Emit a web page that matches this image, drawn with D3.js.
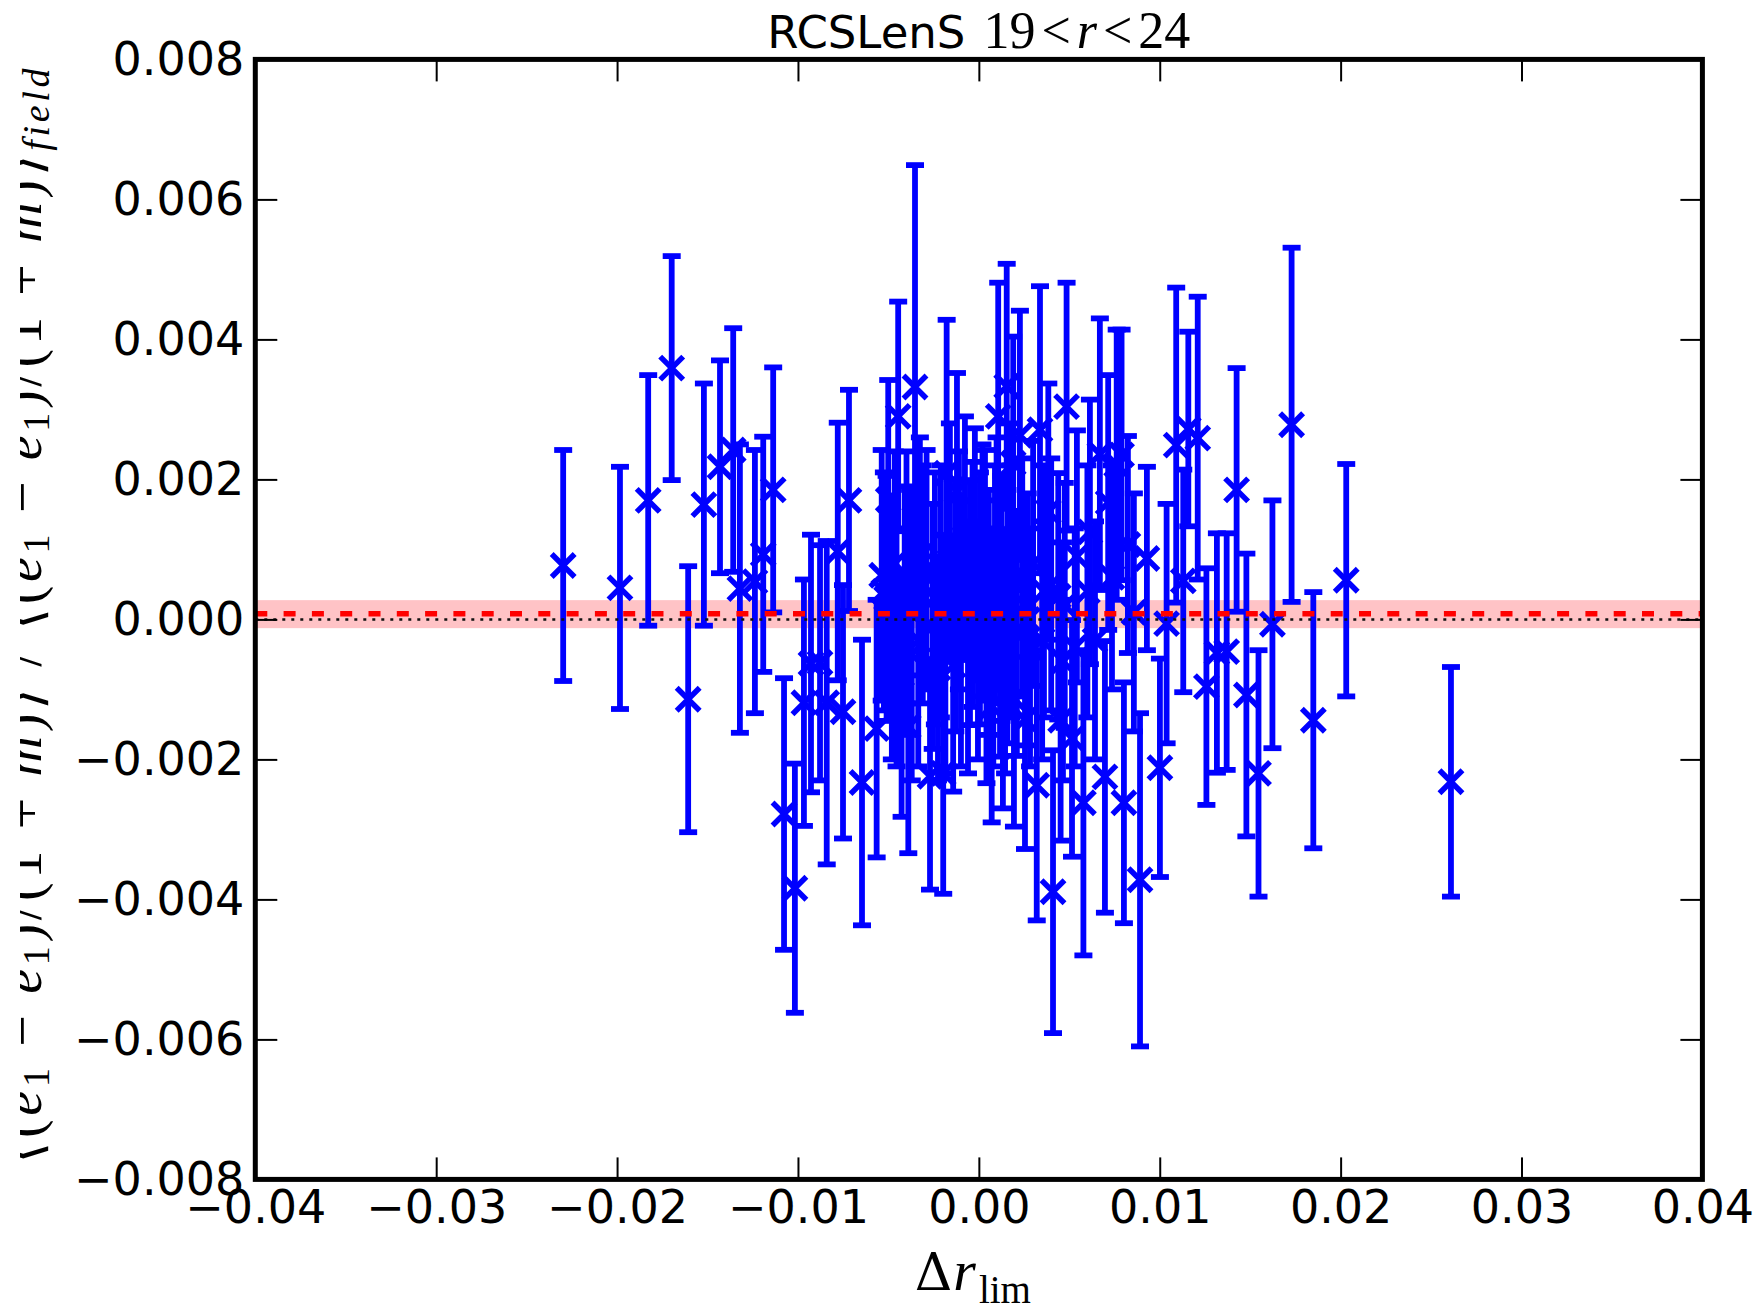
<!DOCTYPE html>
<html>
<head>
<meta charset="utf-8">
<script src="https://cdn.jsdelivr.net/npm/d3@7"></script>
<style>
  html, body { margin: 0; padding: 0; background: #fff; }
  svg { display: block; }
</style>
</head>
<body>
<svg id="chart" width="1756" height="1310"></svg>
<script>
// ---------------- data ----------------
const xTicks = [-0.04, -0.03, -0.02, -0.01, 0.00, 0.01, 0.02, 0.03, 0.04];
const yTicks = [-0.008, -0.006, -0.004, -0.002, 0.000, 0.002, 0.004, 0.006, 0.008];

const deltaR = [
  -0.02298, -0.01984, -0.01828, -0.01698, -0.01607, -0.01520, -0.01431, -0.01358, -0.01321, -0.01238,
  -0.01192, -0.01137, -0.01077, -0.01017, -0.00967, -0.00928, -0.00878, -0.00841, -0.00780, -0.00751,
  -0.00718, -0.00646, -0.00565, -0.00537, -0.00525, -0.00501, -0.00481, -0.00465, -0.00446, -0.00427,
  -0.00410, -0.00390, -0.00371, -0.00353, -0.00326, -0.00289, -0.00270, -0.00243, -0.00226, -0.00197,
  -0.00178, -0.00160, -0.00142, -0.00121, -0.00099, -0.00077, -0.00049, -0.00022, 0.00006, 0.00034,
  0.00042, 0.00071, 0.00089, 0.00107, 0.00117, 0.00133, 0.00154, 0.00158, 0.00172, 0.00190,
  0.00194, 0.00227, 0.00255, 0.00283, 0.00320, 0.00338, 0.00360, 0.00384, 0.00410, 0.00439,
  0.00452, 0.00465, 0.00485, 0.00515, 0.00542, 0.00578, 0.00614, 0.00642, 0.00669, 0.00697,
  0.00715, 0.00736, 0.00762, 0.00789, 0.00802, 0.00824, 0.00857, 0.00891, 0.00929, 0.01001,
  0.01038, 0.01091, 0.01130, 0.01158, 0.01210, 0.01258, 0.01316, 0.01370, 0.01425, 0.01479,
  0.01546, 0.01623, 0.01729, 0.01849, 0.02031, 0.02610,
  // points hidden inside the dense central cluster
  -0.00510, -0.00455, -0.00400, -0.00380, -0.00335, -0.00310, -0.00255, -0.00210, -0.00185, -0.00130,
  -0.00110, -0.00060, -0.00035, -0.00005, 0.00020, 0.00055, 0.00080, 0.00098, 0.00125, 0.00145,
  0.00180, 0.00210, 0.00240, 0.00270, 0.00300, 0.00350, 0.00400, 0.00475, 0.00530, 0.00600
];
const ratio = [
  0.00077, 0.00045, 0.00170, 0.00359, -0.00114, 0.00164, 0.00218, 0.00242, 0.00044, 0.00054,
  0.00093, 0.00185, -0.00278, -0.00384, -0.00119, -0.00063, -0.00062, -0.00119, 0.00097, -0.00132,
  0.00170, -0.00233, -0.00156, 0.00063, 0.00040, 0.00171, -0.00020, 0.00080, 0.00290, -0.00106,
  0.00020, -0.00153, -0.00050, 0.00332, 0.00090, 0.00071, -0.00224, 0.00030, -0.00070, -0.00220,
  0.00209, 0.00110, -0.00066, 0.00183, -0.00020, 0.00116, 0.00024, 0.00093, 0.00030, 0.00063,
  -0.00060, -0.00124, 0.00050, 0.00290, -0.00013, -0.00090, 0.00333, 0.00004, 0.00120, 0.00223,
  -0.00113, 0.00263, -0.00143, -0.00040, -0.00237, 0.00271, 0.00040, 0.00154, -0.00389, 0.00033,
  -0.00144, -0.00060, 0.00304, -0.00170, 0.00090, -0.00262, 0.00125, -0.00030, 0.00236, -0.00225,
  0.00167, 0.00060, 0.00221, 0.00235, -0.00262, 0.00107, 0.00010, -0.00372, 0.00087, -0.00212,
  -0.00006, 0.00249, 0.00055, 0.00272, 0.00259, -0.00096, -0.00048, -0.00046, 0.00185, -0.00108,
  -0.00220, -0.00007, 0.00278, -0.00144, 0.00056, -0.00232,
  0.00030, -0.00040, 0.00060, 0.00010, -0.00030, 0.00050, -0.00010, 0.00040, -0.00050, 0.00020,
  0.00070, -0.00040, 0.00050, -0.00030, 0.00070, 0.00010, -0.00040, 0.00080, 0.00030, -0.00050,
  0.00040, -0.00020, 0.00060, 0.00000, 0.00080, -0.00030, 0.00050, 0.00020, -0.00040, 0.00040
];
const ratioErr = [
  0.00165, 0.00173, 0.00179, 0.00160, 0.00190, 0.00173, 0.00152, 0.00174, 0.00206, 0.00188,
  0.00168, 0.00175, 0.00194, 0.00178, 0.00176, 0.00184, 0.00168, 0.00231, 0.00184, 0.00181,
  0.00158, 0.00204, 0.00184, 0.00179, 0.00170, 0.00171, 0.00180, 0.00160, 0.00164, 0.00176,
  0.00170, 0.00181, 0.00180, 0.00317, 0.00170, 0.00171, 0.00162, 0.00180, 0.00160, 0.00172,
  0.00219, 0.00170, 0.00180, 0.00169, 0.00190, 0.00174, 0.00175, 0.00180, 0.00180, 0.00179,
  0.00174, 0.00166, 0.00170, 0.00191, 0.00183, 0.00180, 0.00175, 0.00181, 0.00160, 0.00181,
  0.00183, 0.00178, 0.00185, 0.00170, 0.00193, 0.00205, 0.00180, 0.00183, 0.00202, 0.00176,
  0.00172, 0.00170, 0.00177, 0.00169, 0.00180, 0.00218, 0.00189, 0.00170, 0.00194, 0.00194,
  0.00182, 0.00160, 0.00193, 0.00179, 0.00172, 0.00155, 0.00170, 0.00238, 0.00131, 0.00156,
  0.00171, 0.00225, 0.00159, 0.00139, 0.00202, 0.00169, 0.00171, 0.00169, 0.00174, 0.00202,
  0.00176, 0.00177, 0.00253, 0.00183, 0.00166, 0.00164,
  0.00175, 0.00170, 0.00180, 0.00175, 0.00180, 0.00170, 0.00175, 0.00180, 0.00170, 0.00180,
  0.00170, 0.00180, 0.00175, 0.00170, 0.00180, 0.00175, 0.00170, 0.00180, 0.00175, 0.00170,
  0.00180, 0.00175, 0.00170, 0.00180, 0.00175, 0.00170, 0.00180, 0.00175, 0.00170, 0.00180
];
const meanValue = 0.00008;
const bandRange = [-0.000125, 0.000275];
const referenceValue = 0.0;

// ---------------- layout ----------------
const svg = d3.select("#chart");
const W = 1756, H = 1310;
const mLeft = 255.3, mRight = 1702.4, mTop = 59.4, mBottom = 1179.4;

svg.append("rect").attr("width", W).attr("height", H).attr("fill", "#fff");

const x = d3.scaleLinear().domain([-0.04, 0.04]).range([mLeft, mRight]);
const y = d3.scaleLinear().domain([-0.008, 0.008]).range([mBottom, mTop]);

const points = deltaR.map((d, i) => ({ x: d, y: ratio[i], e: ratioErr[i] }));

// pink band
svg.append("rect")
  .attr("x", x(-0.04)).attr("width", x(0.04) - x(-0.04))
  .attr("y", y(bandRange[1])).attr("height", y(bandRange[0]) - y(bandRange[1]))
  .attr("fill", "#ffc3c6");

// error bars
const lw = 5.8;
const eb = svg.append("g").attr("stroke", "#0000ff").attr("fill", "none");
eb.selectAll("line.bar").data(points).join("line")
  .attr("class", "bar")
  .attr("x1", d => x(d.x)).attr("x2", d => x(d.x))
  .attr("y1", d => y(d.y - d.e)).attr("y2", d => y(d.y + d.e))
  .attr("stroke-width", lw);
const capW = 9;
eb.selectAll("line.capT").data(points).join("line")
  .attr("class", "capT")
  .attr("x1", d => x(d.x) - capW).attr("x2", d => x(d.x) + capW)
  .attr("y1", d => y(d.y + d.e)).attr("y2", d => y(d.y + d.e))
  .attr("stroke-width", lw);
eb.selectAll("line.capB").data(points).join("line")
  .attr("class", "capB")
  .attr("x1", d => x(d.x) - capW).attr("x2", d => x(d.x) + capW)
  .attr("y1", d => y(d.y - d.e)).attr("y2", d => y(d.y - d.e))
  .attr("stroke-width", lw);

// x markers
const mk = 11.5;
eb.selectAll("path.mark").data(points).join("path")
  .attr("class", "mark")
  .attr("d", d => {
    const cx = x(d.x), cy = y(d.y);
    return `M${cx - mk},${cy - mk}L${cx + mk},${cy + mk}M${cx - mk},${cy + mk}L${cx + mk},${cy - mk}`;
  })
  .attr("stroke-width", 5.5);

// mean (red dashed) and reference (black dotted)
svg.append("line")
  .attr("x1", x(-0.04)).attr("x2", x(0.04))
  .attr("y1", y(meanValue)).attr("y2", y(meanValue))
  .attr("stroke", "#ff0000").attr("stroke-width", 5.5)
  .attr("stroke-dasharray", "12,16.3");
svg.append("line")
  .attr("x1", x(-0.04)).attr("x2", x(0.04))
  .attr("y1", y(referenceValue)).attr("y2", y(referenceValue))
  .attr("stroke", "#111").attr("stroke-width", 2.5)
  .attr("stroke-dasharray", "3,6");

// axes
const tickLen = 22;
function styleAxis(g) {
  g.select(".domain").remove();
  g.selectAll(".tick line").attr("stroke", "#000").attr("stroke-width", 2);
  g.selectAll(".tick text")
    .attr("fill", "#000")
    .attr("font-family", "'DejaVu Sans', sans-serif")
    .attr("font-size", 46);
}
svg.append("g").attr("transform", `translate(0,${mBottom})`)
  .call(d3.axisBottom(x).tickValues(xTicks).tickFormat(d3.format(".2f"))
    .tickSizeInner(-tickLen).tickSizeOuter(0).tickPadding(11))
  .call(styleAxis);
svg.append("g").attr("transform", `translate(${mLeft},0)`)
  .call(d3.axisLeft(y).tickValues(yTicks).tickFormat(d3.format(".3f"))
    .tickSizeInner(-tickLen).tickSizeOuter(0).tickPadding(11))
  .call(styleAxis);
svg.append("g").attr("transform", `translate(0,${mTop})`)
  .call(d3.axisTop(x).tickValues(xTicks).tickFormat(() => "")
    .tickSizeInner(-tickLen).tickSizeOuter(0))
  .call(styleAxis);
svg.append("g").attr("transform", `translate(${mRight},0)`)
  .call(d3.axisRight(y).tickValues(yTicks).tickFormat(() => "")
    .tickSizeInner(-tickLen).tickSizeOuter(0))
  .call(styleAxis);

// frame
svg.append("rect")
  .attr("x", mLeft).attr("y", mTop)
  .attr("width", mRight - mLeft).attr("height", mBottom - mTop)
  .attr("fill", "none").attr("stroke", "#000").attr("stroke-width", 5);

// title
const title = svg.append("text")
  .attr("x", (mLeft + mRight) / 2).attr("y", 48)
  .attr("text-anchor", "middle").attr("fill", "#000");
title.append("tspan").attr("font-family", "'DejaVu Sans', sans-serif").attr("font-size", 45).text("RCSLenS");
const mathT = [["19", 18, "normal"], ["<", 6, "normal"], ["r", 6, "italic"], ["<", 6, "normal"], ["24", 6, "normal"]];
mathT.forEach(([t, dx, st]) => {
  title.append("tspan").attr("font-family", "'Liberation Serif', serif")
    .attr("font-size", 52).attr("font-style", st).attr("dx", dx).text(t);
});

// x label
const xl = svg.append("text")
  .attr("x", (mLeft + mRight) / 2 - 6).attr("y", 1290)
  .attr("text-anchor", "middle").attr("fill", "#000")
  .attr("font-family", "'Liberation Serif', serif");
xl.append("tspan").attr("font-family", "'DejaVu Serif', serif").attr("font-size", 52).text("Δ");
xl.append("tspan").attr("font-style", "italic").attr("font-size", 58).attr("dx", 1).text("r");
xl.append("tspan").attr("font-size", 39).attr("dy", 13).attr("dx", 3).text("lim");

// y label (mostly outside the visible area, as in the reference)
const defs = svg.append("defs");
defs.append("clipPath").attr("id", "ylabClip")
  .append("rect").attr("x", 20).attr("y", 0).attr("width", 60).attr("height", H);
const yl = svg.append("g").attr("clip-path", "url(#ylabClip)")
  .append("text")
  .attr("transform", "translate(41,616) rotate(-90)")
  .attr("text-anchor", "middle")
  .attr("font-family", "'Liberation Serif', 'DejaVu Serif', serif")
  .attr("font-size", 56).attr("fill", "#000")
  .attr("textLength", 1095).attr("lengthAdjust", "spacing");
const half = () => {
  yl.append("tspan").text("⟨(");
  yl.append("tspan").attr("font-style", "italic").text("e");
  yl.append("tspan").attr("font-size", 38).attr("dy", 8).text("1");
  yl.append("tspan").attr("dy", -8).text(" − ");
  yl.append("tspan").attr("font-style", "italic").text("ê");
  yl.append("tspan").attr("font-size", 38).attr("dy", 8).text("1");
  yl.append("tspan").attr("dy", -8).text(")/(1 + ");
  yl.append("tspan").attr("font-style", "italic").text("m");
  yl.append("tspan").text(")⟩");
};
half();
yl.append("tspan").text(" / ");
half();
yl.append("tspan").attr("font-style", "italic").attr("font-size", 38).attr("dy", 8).text("field");
</script>
</body>
</html>
